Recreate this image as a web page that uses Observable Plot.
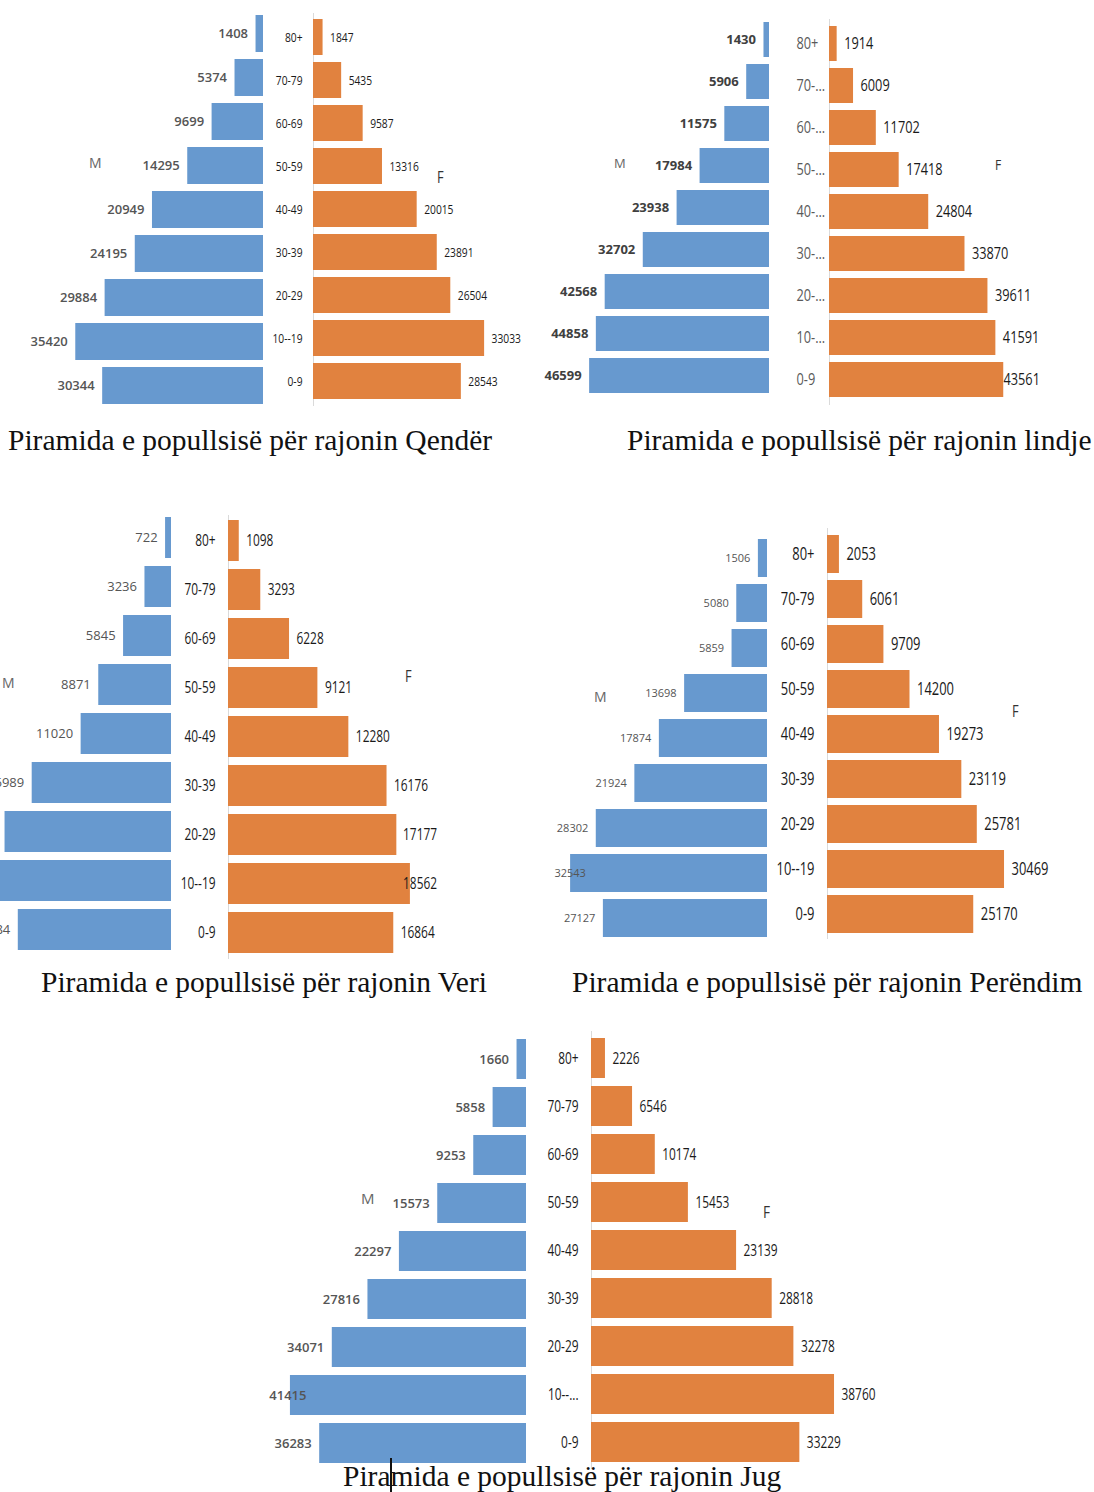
<!DOCTYPE html>
<html>
<head>
<meta charset="utf-8">
<script src="https://cdn.jsdelivr.net/npm/d3@7"></script>
<script src="https://cdn.jsdelivr.net/npm/@observablehq/plot@0.6"></script>
<style>
  html, body { margin: 0; padding: 0; background: #fff; overflow: hidden; }
  #root { position: relative; width: 1094px; height: 1492px; overflow: hidden; background: #fff; }
  .abs { position: absolute; }
  .title { position: absolute; font-family: "Liberation Serif", "Times New Roman", serif; font-size: 29.5px; line-height: 1; color: #111; white-space: nowrap; }
  .sex { position: absolute; line-height: 1; white-space: nowrap; }
</style>
</head>
<body>
<div id="root"></div>
<script>
// ---------- data (age groups from oldest to youngest) ----------
const ages = ["80+", "70-79", "60-69", "50-59", "40-49", "30-39", "20-29", "10-19", "0-9"];

const qenderAgeLabels   = ["80+", "70-79", "60-69", "50-59", "40-49", "30-39", "20-29", "10--19", "0-9"];
const lindjeAgeLabels   = ["80+", "70-...", "60-...", "50-...", "40-...", "30-...", "20-...", "10-...", "0-9"];
const veriAgeLabels     = ["80+", "70-79", "60-69", "50-59", "40-49", "30-39", "20-29", "10--19", "0-9"];
const perendimAgeLabels = ["80+", "70-79", "60-69", "50-59", "40-49", "30-39", "20-29", "10--19", "0-9"];
const jugAgeLabels      = ["80+", "70-79", "60-69", "50-59", "40-49", "30-39", "20-29", "10--...", "0-9"];

const qenderM   = [1408, 5374, 9699, 14295, 20949, 24195, 29884, 35420, 30344];
const qenderF   = [1847, 5435, 9587, 13316, 20015, 23891, 26504, 33033, 28543];
const lindjeM   = [1430, 5906, 11575, 17984, 23938, 32702, 42568, 44858, 46599];
const lindjeF   = [1914, 6009, 11702, 17418, 24804, 33870, 39611, 41591, 43561];
const veriM     = [722, 3236, 5845, 8871, 11020, 16989, 20300, 22300, 18684];
const veriF     = [1098, 3293, 6228, 9121, 12280, 16176, 17177, 18562, 16864];
const perendimM = [1506, 5080, 5859, 13698, 17874, 21924, 28302, 32543, 27127];
const perendimF = [2053, 6061, 9709, 14200, 19273, 23119, 25781, 30469, 25170];
const jugM      = [1660, 5858, 9253, 15573, 22297, 27816, 34071, 41415, 36283];
const jugF      = [2226, 6546, 10174, 15453, 23139, 28818, 32278, 38760, 33229];

const titles = {
  qender: "Piramida e popullsisë për rajonin Qendër",
  lindje: "Piramida e popullsisë për rajonin lindje",
  veri: "Piramida e popullsisë për rajonin Veri",
  perendim: "Piramida e popullsisë për rajonin Perëndim",
  jug: "Piramida e popullsisë për rajonin Jug"
};

// ---------- styling ----------
const BLUE = "#6799cf";
const ORANGE = "#e1823f";
const SANS = '"Open Sans", "Noto Sans", sans-serif';

const root = document.getElementById("root");

function place(el, left, top) {
  el.classList.add("abs");
  el.style.left = left + "px";
  el.style.top = top + "px";
  root.appendChild(el);
}

// squeeze text glyphs horizontally (condensed look) around each text's anchor
function condense(svg, s) {
  svg.querySelectorAll("text").forEach(el => {
    const bb = el.getBBox();
    const anchor = getComputedStyle(el).textAnchor;
    const ax = anchor === "end" ? bb.x + bb.width : anchor === "middle" ? bb.x + bb.width / 2 : bb.x;
    const tr = el.getAttribute("transform") || "";
    el.setAttribute("transform", `${tr} translate(${ax},0) scale(${s},1) translate(${-ax},0)`);
  });
}

function pyramid(c) {
  const rows = ages.map((a, i) => ({age: a, m: c.male[i], f: c.female[i], lab: c.ageLabels[i]}));
  const pad = 0.16;

  // ----- male side (bars grow leftwards) -----
  const mLeft = c.maleLeftLimit ?? 0;
  const mW = c.maleRight - mLeft;
  const mH = c.maleBottom - c.maleTop;
  const mMax = mW / c.malePx;
  const mCap = c.maleCap ?? Infinity;
  const male = Plot.plot({
    width: mW, height: mH,
    margin: 0,
    style: {background: "transparent", overflow: "visible", fontFamily: SANS},
    x: {domain: [0, mMax], range: [mW, 0], axis: null},
    y: {domain: ages, range: [0, mH], paddingInner: pad, paddingOuter: pad / 2, axis: null},
    marks: [
      Plot.barX(rows, {x: "m", y: "age", fill: BLUE}),
      Plot.text(rows, {
        x: d => Math.min(d.m, mCap), y: "age", text: d => String(d.m),
        textAnchor: "end", dx: -8, fill: c.maleColor ?? "#555",
        fontSize: c.maleFont, fontWeight: c.maleWeight ?? 600, fontFamily: SANS
      })
    ]
  });
  place(male, mLeft, c.maleTop);

  // ----- female side (bars grow rightwards, age labels sit in the gap) -----
  const G = 90;
  const fLeft = c.femaleLeft - G;
  const fW = G + c.femaleWidth;
  const fH = c.femaleBottom - c.femaleTop;
  const fMax = c.femaleWidth / c.femalePx;
  const fCap = c.femaleCap ?? Infinity;
  const female = Plot.plot({
    width: fW, height: fH,
    margin: 0,
    style: {background: "transparent", overflow: "visible", fontFamily: SANS},
    x: {domain: [0, fMax], range: [G, fW], axis: null},
    y: {domain: ages, range: [0, fH], paddingInner: pad, paddingOuter: pad / 2, axis: null},
    marks: [
      Plot.ruleX([0], {stroke: "#dadada", strokeWidth: 1}),
      Plot.barX(rows, {x: "f", y: "age", fill: ORANGE}),
      Plot.text(rows, {
        x: d => Math.min(d.f, fCap), y: "age", text: d => String(d.f),
        textAnchor: "start", dx: 7, fill: "#1a1a1a",
        fontSize: c.femaleFont, fontFamily: SANS
      }),
      Plot.text(rows, {
        x: 0, y: "age", text: "lab",
        textAnchor: c.ageAnchor, dx: c.ageX - c.femaleLeft, fill: c.ageColor ?? "#1a1a1a",
        fontSize: c.femaleFont, fontFamily: SANS
      })
    ]
  });
  place(female, fLeft, c.femaleTop);
  condense(female, c.narrow);

  // sex letters
  const M = document.createElement("div");
  M.className = "sex"; M.textContent = "M";
  M.style.cssText += `left:${c.M[0]}px;top:${c.M[1]}px;font-family:${SANS};font-size:${c.sexFont}px;color:#666;`;
  root.appendChild(M);
  const F = document.createElement("div");
  F.className = "sex"; F.textContent = "F";
  F.style.cssText += `left:${c.F[0]}px;top:${c.F[1]}px;font-family:${SANS};font-size:${c.sexFont + 2}px;color:#333;transform:scaleX(0.8);transform-origin:left top;`;
  root.appendChild(F);

  // title
  const t = document.createElement("div");
  t.className = "title"; t.textContent = c.title;
  t.style.left = c.titleX + "px"; t.style.top = c.titleY + "px";
  root.appendChild(t);
}

pyramid({
  male: qenderM, female: qenderF, ageLabels: qenderAgeLabels,
  maleRight: 263, maleTop: 9.5, maleBottom: 408, malePx: 0.0053,
  femaleLeft: 313, femaleTop: 13, femaleBottom: 406, femalePx: 0.00518, femaleWidth: 230,
  ageX: 302, ageAnchor: "end", narrow: 0.76,
  maleFont: 13, femaleFont: 13.5, sexFont: 14,
  M: [89, 156], F: [437, 169],
  title: titles.qender, titleX: 8, titleY: 426
});

pyramid({
  male: lindjeM, female: lindjeF, ageLabels: lindjeAgeLabels,
  maleLeftLimit: 500, maleRight: 769, maleTop: 15, maleBottom: 401, malePx: 0.00386, maleColor: "#404040", maleWeight: 700,
  femaleLeft: 829, femaleTop: 19, femaleBottom: 405, femalePx: 0.0040, femaleWidth: 260, femaleCap: 41750,
  ageX: 796, ageAnchor: "start", narrow: 0.75, ageColor: "#595959",
  maleFont: 13, femaleFont: 17, sexFont: 13,
  M: [614, 157], F: [995, 157],
  title: titles.lindje, titleX: 627, titleY: 426
});

pyramid({
  male: veriM, female: veriF, ageLabels: veriAgeLabels,
  maleLeftLimit: -80, maleRight: 171, maleTop: 512, maleBottom: 956, malePx: 0.0082, maleWeight: 400,
  femaleLeft: 228, femaleTop: 515, femaleBottom: 959, femalePx: 0.0098, femaleWidth: 260, femaleCap: 17100,
  ageX: 215, ageAnchor: "end", narrow: 0.72,
  maleFont: 13, femaleFont: 16.5, sexFont: 14,
  M: [2, 676], F: [405, 668],
  title: titles.veri, titleX: 41, titleY: 968
});

pyramid({
  male: perendimM, female: perendimF, ageLabels: perendimAgeLabels,
  maleLeftLimit: 540, maleRight: 767, maleTop: 532, maleBottom: 944, malePx: 0.00605, maleWeight: 400, maleCap: 28700,
  femaleLeft: 827, femaleTop: 528, femaleBottom: 939, femalePx: 0.00581, femaleWidth: 260,
  ageX: 814, ageAnchor: "end", narrow: 0.7,
  maleFont: 11, femaleFont: 18.5, sexFont: 14,
  M: [594, 690], F: [1012, 703],
  title: titles.perendim, titleX: 572, titleY: 968
});

pyramid({
  male: jugM, female: jugF, ageLabels: jugAgeLabels,
  maleLeftLimit: 230, maleRight: 526, maleTop: 1031, maleBottom: 1471, malePx: 0.0057, maleWeight: 600, maleCap: 37200,
  femaleLeft: 591, femaleTop: 1031, femaleBottom: 1469, femalePx: 0.00627, femaleWidth: 300,
  ageX: 578, ageAnchor: "end", narrow: 0.72,
  maleFont: 13, femaleFont: 16.5, sexFont: 15,
  M: [361, 1191], F: [763, 1203],
  title: titles.jug, titleX: 343, titleY: 1462
});

// text cursor artefact in the Jug title
const cursor = document.createElement("div");
cursor.style.cssText = "position:absolute;left:390px;top:1458px;width:2px;height:34px;background:#111;";
root.appendChild(cursor);
</script>
</body>
</html>
